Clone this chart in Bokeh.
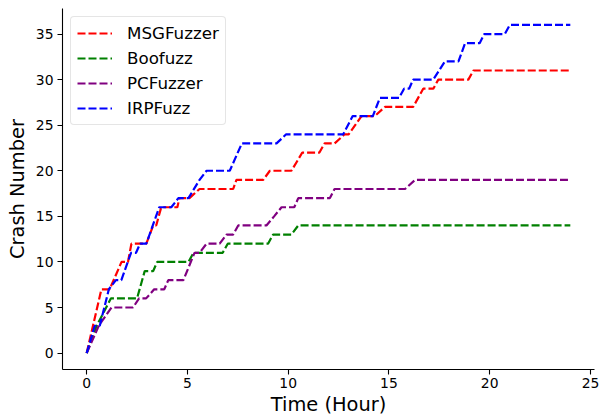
from bokeh.plotting import figure
from bokeh.models import FixedTicker, Range1d
from bokeh.embed import file_html
from bokeh.resources import INLINE

# ---- data ----
series_names = ["MSGFuzzer", "Boofuzz", "PCFuzzer", "IRPFuzz"]
series_colors = ["#ff0000", "#008000", "#800080", "#0000ff"]

msg_t = [0, 0.73, 1.14, 1.73, 2.05, 2.22, 2.96, 3.3, 3.45, 3.7, 4.5, 4.6, 5.1, 5.6,
         7.27, 7.43, 8.76, 9.09, 10.16, 10.7, 11.55, 11.8, 12.3, 12.8, 13.0, 13.64,
         14.3, 14.8, 16.2, 16.7, 17.2, 17.45, 18.94, 19.19, 24]
msg_y = [0, 7, 7, 10, 10, 12, 12, 14, 14, 16, 16, 17, 17, 18,
         18, 19, 19, 20, 20, 22, 22, 23, 23, 24, 24, 26,
         26, 27, 27, 29, 29, 30, 30, 31, 31]

boo_t = [0, 0.5, 1.2, 2.5, 2.88, 3.3, 3.5, 5.05, 5.3, 6.75, 7.0, 9.0, 9.25, 10.16, 10.5, 24]
boo_y = [0, 3, 6, 6, 9, 9, 10, 10, 11, 11, 12, 12, 13, 13, 14, 14]

pcf_t = [0, 0.6, 1.23, 2.3, 2.6, 2.95, 3.35, 3.85, 4.05, 4.8, 5.35, 5.6, 5.95, 6.6,
         6.94, 7.27, 7.52, 8.92, 9.3, 9.67, 10.3, 10.5, 12.07, 12.3, 15.8, 16.3, 24]
pcf_y = [0, 3, 5, 5, 6, 6, 7, 7, 8, 8, 11, 11, 12, 12,
         13, 13, 14, 14, 15, 16, 16, 17, 17, 18, 18, 19, 19]

irp_t = [0, 0.4, 0.65, 1.1, 1.45, 1.72, 2.2, 2.45, 2.65, 2.96, 3.6, 4.2, 4.55, 5.05,
         5.6, 5.95, 7.1, 7.7, 9.42, 9.9, 12.73, 13.2, 14.2, 14.55, 15.5, 15.75, 16.0,
         16.2, 17.2, 17.78, 18.45, 18.78, 19.5, 19.73, 20.75, 21.0, 24]
irp_y = [0, 3, 3, 7, 8, 8, 11, 11, 12, 12, 16, 16, 17, 17,
         19, 20, 20, 23, 23, 24, 24, 26, 26, 28, 28, 29, 29,
         30, 30, 32, 32, 34, 34, 35, 35, 36, 36]

x_ticks = [0, 5, 10, 15, 20, 25]
y_ticks = [0, 5, 10, 15, 20, 25, 30, 35]

FONT = "DejaVu Sans"

p = figure(width=605, height=418,
           x_range=Range1d(-1.2, 25.2), y_range=Range1d(-1.8, 37.8),
           output_backend="svg", toolbar_location=None,
           min_border_left=62, min_border_right=11,
           min_border_top=8, min_border_bottom=49)

series = [(msg_t, msg_y), (boo_t, boo_y), (pcf_t, pcf_y), (irp_t, irp_y)]
for (t, y), name, col in zip(series, series_names, series_colors):
    p.line(t, y, line_color=col, line_width=2.2, line_dash="8 3",
           legend_label=name)

p.grid.visible = False
p.outline_line_color = None

for ax, ticks in ((p.xaxis, x_ticks), (p.yaxis, y_ticks)):
    ax.ticker = FixedTicker(ticks=ticks, minor_ticks=[])
    ax.axis_line_color = "black"
    ax.axis_line_width = 1.1
    ax.major_tick_line_color = "black"
    ax.major_tick_line_width = 1.1
    ax.major_tick_out = 5
    ax.major_tick_in = 0
    ax.minor_tick_line_color = None
    ax.major_label_text_font = FONT
    ax.major_label_text_font_size = "13.9px"
    ax.major_label_text_color = "black"
    ax.axis_label_text_font = FONT
    ax.axis_label_text_font_size = "19.4px"
    ax.axis_label_text_font_style = "normal"
    ax.axis_label_text_color = "black"

p.xaxis.axis_label = "Time (Hour)"
p.yaxis.axis_label = "Crash Number"
p.xaxis.major_label_standoff = 3
p.xaxis.axis_label_standoff = 2
p.yaxis.major_label_standoff = 4
p.yaxis.axis_label_standoff = 4

lg = p.legend[0]
lg.location = "top_left"
lg.margin = 8
lg.padding = 6
lg.spacing = 5
lg.glyph_width = 35
lg.glyph_height = 20
lg.label_height = 20
lg.label_standoff = 15
lg.label_text_font = FONT
lg.label_text_font_size = "16.7px"
lg.label_text_color = "black"
lg.border_line_color = "#cccccc"
lg.border_line_width = 1
lg.background_fill_color = "white"
lg.background_fill_alpha = 0.8
try:
    lg.border_radius = 4
except Exception:
    pass

open("out.html", "w").write(file_html(p, INLINE))
